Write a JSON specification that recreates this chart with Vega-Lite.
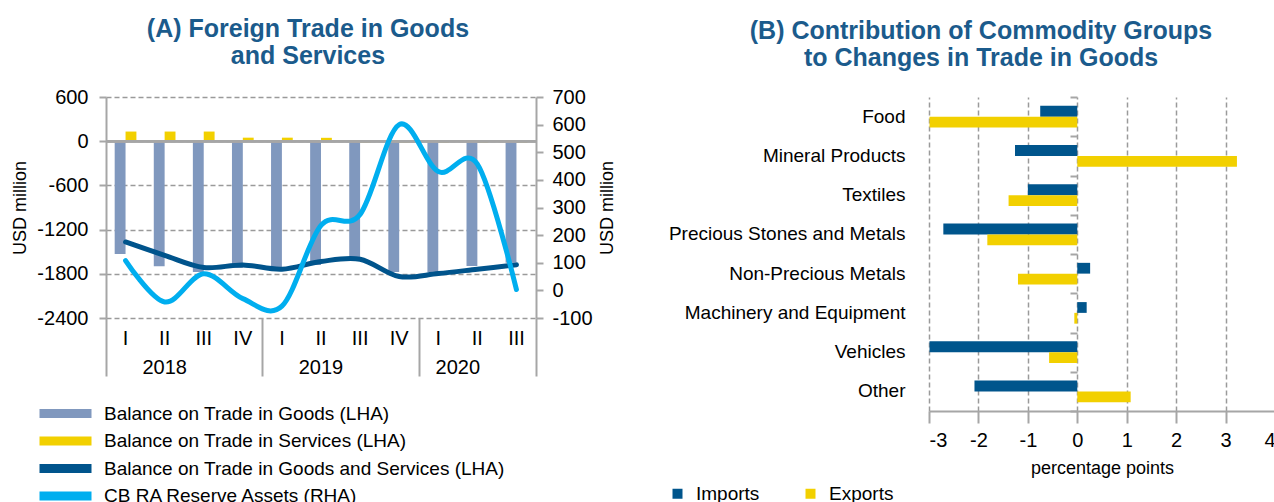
{
  "$schema": "https://vega.github.io/schema/vega-lite/v6.json",
  "background": "white",
  "padding": {"left": 11, "top": 17, "right": 0, "bottom": 0},
  "spacing": 51,
  "config": {
    "font": "Liberation Sans",
    "view": {"stroke": null},
    "axis": {
      "labelFont": "Liberation Sans", "labelFontSize": 20, "labelColor": "#000000", "labelLimit": 400,
      "titleFont": "Liberation Sans", "titleFontSize": 18, "titleFontWeight": "normal", "titleColor": "#000000",
      "domainColor": "#a6a6a6", "tickColor": "#a6a6a6", "gridColor": "#9a9a9a"
    },
    "legend": {"labelFont": "Liberation Sans", "labelColor": "#000000", "labelLimit": 0},
    "title": {"font": "Liberation Sans", "fontSize": 25, "fontWeight": "bold", "color": "#1b5b8c", "lineHeight": 27, "anchor": "middle", "frame": "bounds"}
  },
  "datasets": {
    "trade": [
      {"q": "2018 I", "goods": -1530, "services": 131, "gs": -1368, "rha": 108},
      {"q": "2018 II", "goods": -1697, "services": 131, "gs": -1550, "rha": -42},
      {"q": "2018 III", "goods": -1774, "services": 131, "gs": -1715, "rha": 60},
      {"q": "2018 IV", "goods": -1720, "services": 48, "gs": -1679, "rha": -30},
      {"q": "2019 I", "goods": -1746, "services": 48, "gs": -1738, "rha": -57},
      {"q": "2019 II", "goods": -1680, "services": 46, "gs": -1633, "rha": 235},
      {"q": "2019 III", "goods": -1600, "services": -20, "gs": -1602, "rha": 275},
      {"q": "2019 IV", "goods": -1775, "services": -20, "gs": -1837, "rha": 600},
      {"q": "2020 I", "goods": -1780, "services": -20, "gs": -1796, "rha": 430},
      {"q": "2020 II", "goods": -1693, "services": -20, "gs": -1738, "rha": 457},
      {"q": "2020 III", "goods": -1650, "services": -20, "gs": -1679, "rha": 3}
    ],
    "groups": [
      {"group": "Food", "imports": -0.75, "exports": -2.99},
      {"group": "Mineral Products", "imports": -1.26, "exports": 3.23},
      {"group": "Textiles", "imports": -1.0, "exports": -1.39},
      {"group": "Precious Stones and Metals", "imports": -2.71, "exports": -1.82},
      {"group": "Non-Precious Metals", "imports": 0.26, "exports": -1.2},
      {"group": "Machinery and Equipment", "imports": 0.19, "exports": -0.06},
      {"group": "Vehicles", "imports": -2.99, "exports": -0.57},
      {"group": "Other", "imports": -2.08, "exports": 1.08}
    ]
  },
  "resolve": {"scale": {"color": "independent"}, "legend": {"color": "independent"}},
  "hconcat": [
    {
      "title": {"text": ["(A) Foreign Trade in Goods", "and Services"], "offset": 18, "dx": -6},
      "width": 430,
      "height": 221,
      "data": {"name": "trade"},
      "layer": [
        {
          "transform": [{"fold": ["goods", "services"], "as": ["series", "value"]}],
          "mark": {"type": "bar"},
          "encoding": {
            "x": {
              "field": "q", "type": "nominal", "sort": null,
              "scale": {"paddingInner": 0, "paddingOuter": 0},
              "axis": {"orient": "bottom", "labelExpr": "split(datum.value, ' ')[1]", "labelAngle": 0, "ticks": false, "domain": false, "grid": false, "title": null, "labelPadding": 10}
            },
            "xOffset": {"field": "series", "type": "nominal", "sort": ["goods", "services"], "scale": {"paddingInner": 0, "paddingOuter": 0.8}},
            "y": {
              "field": "value", "type": "quantitative",
              "scale": {"domain": [-2400, 600], "nice": false, "zero": false},
              "axis": {"orient": "left", "values": [-2400, -1800, -1200, -600, 0, 600], "labelExpr": "'' + datum.value", "title": "USD million", "titlePadding": 7, "grid": true, "gridDash": [5, 3], "gridWidth": 1.5, "domainWidth": 2, "tickSize": 7, "tickWidth": 2, "labelPadding": 11}
            },
            "color": {
              "field": "series", "type": "nominal",
              "scale": {"domain": ["goods", "services", "gs", "rha"], "range": ["#8098be", "#f2d000", "#00548c", "#00aeef"]},
              "legend": {
                "orient": "none", "legendX": -50, "legendY": 307, "title": null, "direction": "vertical",
                "symbolType": "M-4,-0.68L4,-0.68L4,0.68L-4,0.68Z", "symbolSize": 169, "symbolStrokeWidth": 0, "symbolOpacity": 1,
                "labelFontSize": 19, "labelOffset": 29, "rowPadding": 7.5,
                "labelExpr": "datum.label == 'goods' ? 'Balance on Trade in Goods (LHA)' : datum.label == 'services' ? 'Balance on Trade in Services (LHA)' : datum.label == 'gs' ? 'Balance on Trade in Goods and Services (LHA)' : 'CB RA Reserve Assets (RHA)'"
              }
            }
          }
        },
        {
          "mark": {"type": "rule", "color": "#a6a6a6", "strokeWidth": 2},
          "encoding": {"y": {"datum": 0, "type": "quantitative", "scale": {"domain": [-2400, 600], "nice": false, "zero": false}, "axis": null}}
        },
        {
          "mark": {"type": "line", "interpolate": "cardinal", "strokeWidth": 5, "strokeCap": "round"},
          "encoding": {
            "x": {
              "field": "q", "type": "nominal", "sort": null,
              "axis": {"orient": "bottom", "values": ["2018 II", "2019 II", "2020 II"], "bandPosition": 1, "labelExpr": "split(datum.value, ' ')[0]", "labelAngle": 0,
                "labelOffset": {"condition": {"test": "datum.value == '2020 II'", "value": -19.5}, "value": 0},
                "ticks": false, "domain": false, "grid": false, "title": null, "labelPadding": 39}
            },
            "y": {"field": "gs", "type": "quantitative", "scale": {"domain": [-2400, 600], "nice": false, "zero": false}, "axis": null},
            "color": {"datum": "gs", "type": "nominal"}
          }
        },
        {
          "mark": {"type": "line", "interpolate": "cardinal", "strokeWidth": 5, "strokeCap": "round"},
          "encoding": {
            "x": {
              "field": "q", "type": "nominal", "sort": null,
              "axis": {"orient": "bottom", "tickBand": "extent", "tickSize": 58, "tickWidth": 2, "labels": false, "domain": false, "grid": false, "title": null,
                "tickOpacity": {"condition": {"test": "datum.value == '2018 IV' || datum.value == '2019 IV' || datum.value == '2020 III' || datum.extra", "value": 1}, "value": 0}}
            },
            "y": {
              "field": "rha", "type": "quantitative",
              "scale": {"domain": [-100, 700], "nice": false, "zero": false},
              "axis": {"orient": "right", "values": [-100, 0, 100, 200, 300, 400, 500, 600, 700], "labelExpr": "'' + datum.value", "title": "USD million", "titleAngle": 270, "titleBaseline": "top", "titlePadding": 6, "grid": false, "domainWidth": 2, "tickSize": 7, "tickWidth": 2, "labelPadding": 9}
            },
            "color": {"datum": "rha", "type": "nominal"}
          }
        }
      ],
      "resolve": {"scale": {"y": "independent"}, "axis": {"x": "independent", "y": "independent"}}
    },
    {
      "title": {"text": ["(B) Contribution of Commodity Groups", "to Changes in Trade in Goods"], "offset": 25, "dx": 9},
      "width": 346,
      "height": 314,
      "data": {"name": "groups"},
      "transform": [{"fold": ["imports", "exports"], "as": ["flow", "value"]}],
      "layer": [
        {
          "mark": {"type": "bar"},
          "encoding": {
            "y": {
              "field": "group", "type": "nominal", "sort": null,
              "scale": {"paddingInner": 0, "paddingOuter": 0},
              "axis": {"orient": "left", "title": null, "ticks": false, "domain": false, "labelPadding": 24, "labelFontSize": 19}
            },
            "yOffset": {"field": "flow", "type": "nominal", "sort": ["imports", "exports"], "scale": {"paddingInner": 0, "paddingOuter": 0.82}},
            "x": {
              "field": "value", "type": "quantitative",
              "scale": {"domain": [-3, 4], "nice": false, "zero": false},
              "axis": {"orient": "bottom", "values": [-3, -2, -1, 0, 1, 2, 3, 4], "labelExpr": "'' + datum.value", "title": "percentage points", "titlePadding": 9, "grid": true, "gridDash": [5, 3], "gridWidth": 1.5, "domainWidth": 2, "tickSize": 12, "tickWidth": 2, "labelPadding": 7.5}
            },
            "color": {
              "field": "flow", "type": "nominal",
              "scale": {"domain": ["imports", "exports"], "range": ["#00558c", "#f2d000"]},
              "legend": {
                "orient": "none", "legendX": -261, "legendY": 387, "direction": "horizontal", "title": null,
                "symbolType": "square", "symbolSize": 100, "symbolStrokeWidth": 0, "symbolOpacity": 1,
                "labelFontSize": 19, "labelOffset": 9, "columnPadding": 41,
                "labelExpr": "datum.label == 'imports' ? 'Imports' : 'Exports'"
              }
            }
          }
        },
        {
          "mark": {"type": "rule", "color": "#a6a6a6", "strokeWidth": 2},
          "encoding": {
            "x": {"datum": 0, "type": "quantitative"},
            "y": {
              "field": "group", "type": "nominal", "sort": null,
              "axis": {"orient": "left", "offset": -148, "labels": false, "domain": false, "grid": false, "title": null, "tickBand": "extent", "tickSize": 7, "tickWidth": 2}
            }
          }
        }
      ],
      "resolve": {"axis": {"y": "independent"}}
    }
  ]
}
